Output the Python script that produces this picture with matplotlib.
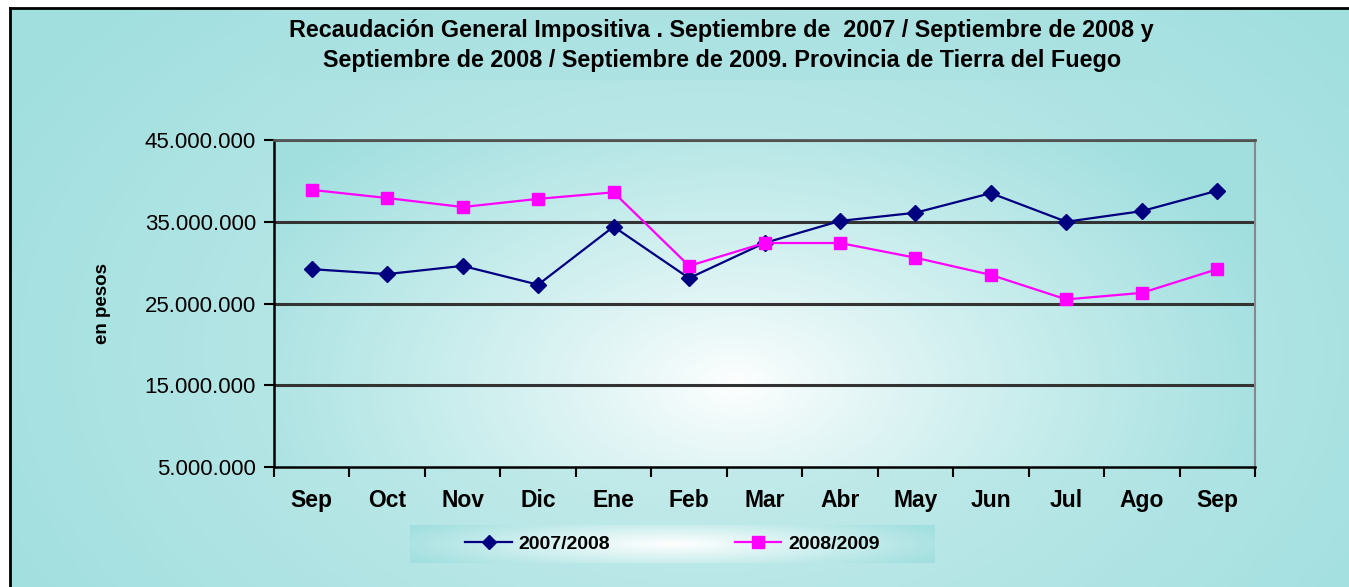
import numpy as np
import matplotlib
matplotlib.use('Agg')
import matplotlib.pyplot as plt
from matplotlib.lines import Line2D
from matplotlib.patches import Rectangle
from matplotlib.ticker import FuncFormatter

plt.rcParams['font.family'] = ['Liberation Sans', 'DejaVu Sans']

meses = ["Sep", "Oct", "Nov", "Dic", "Ene", "Feb", "Mar", "Abr", "May", "Jun", "Jul", "Ago", "Sep"]
serie_0708 = [29.2e6, 28.6e6, 29.6e6, 27.3e6, 34.4e6, 28.1e6, 32.4e6, 35.1e6, 36.1e6, 38.5e6, 35.0e6, 36.3e6, 38.8e6]
serie_0809 = [38.9e6, 37.9e6, 36.8e6, 37.8e6, 38.6e6, 29.6e6, 32.4e6, 32.4e6, 30.6e6, 28.5e6, 25.5e6, 26.3e6, 29.2e6]
y_ticks = [5e6, 15e6, 25e6, 35e6, 45e6]

teal = np.array([161, 223, 223]) / 255.0
white = np.array([1.0, 1.0, 1.0])


def radial(w, h, cx, cy, rx, ry, inner, outer, power=1.0):
    xx, yy = np.meshgrid(np.linspace(0, 1, w), np.linspace(0, 1, h))
    d = np.sqrt(((xx - cx) / rx) ** 2 + ((yy - cy) / ry) ** 2)
    t = np.clip(d, 0, 1) ** power
    return inner[None, None, :] * (1 - t[..., None]) + outer[None, None, :] * t[..., None]


fig = plt.figure(figsize=(13.49, 5.87), dpi=100)
fig.patch.set_facecolor('white')

# fondo general del gráfico
bg = fig.add_axes([10 / 1349, 0, 1 - 10 / 1349, 1 - 8 / 587])
bg_img = radial(300, 150, 0.52, 0.4, 0.6, 0.9, np.array([0.80, 0.93, 0.93]), teal)
bg.imshow(bg_img, extent=[0, 1, 0, 1], aspect='auto', origin='lower', zorder=0)
bg.set_xlim(0, 1)
bg.set_ylim(0, 1)
bg.set_xticks([])
bg.set_yticks([])
for s in ['right', 'bottom']:
    bg.spines[s].set_visible(False)
for s in ['left', 'top']:
    bg.spines[s].set_linewidth(2)
    bg.spines[s].set_color('black')

# caja del título
fig.patches.append(Rectangle((280 / 1349, 1 - 80 / 587), 880 / 1349, 68 / 587,
                             transform=fig.transFigure, facecolor='#a9e1e1', alpha=0.6,
                             edgecolor='none', zorder=1))
fig.text(0.535, 1 - 30 / 587, "Recaudación General Impositiva . Septiembre de  2007 / Septiembre de 2008 y",
         ha='center', va='center', fontsize=16.8, fontweight='bold', zorder=3)
fig.text(0.535, 1 - 60 / 587, "Septiembre de 2008 / Septiembre de 2009. Provincia de Tierra del Fuego",
         ha='center', va='center', fontsize=16.8, fontweight='bold', zorder=3)

ax = fig.add_axes([274 / 1349, 1 - 467 / 587, 981 / 1349, 327 / 587])
x = np.arange(len(meses))
ax.set_xlim(-0.5, len(meses) - 0.5)
ax.set_ylim(5e6, 45e6)

plot_img = radial(300, 150, 0.47, 0.25, 0.58, 1.05, white, teal, power=0.85)
ax.imshow(plot_img, extent=[-0.5, len(meses) - 0.5, 5e6, 45e6], aspect='auto',
          origin='lower', zorder=0)

for v in y_ticks[1:]:
    ax.axhline(v, color='#333333', linewidth=2.2, zorder=1)

ax.plot(x, serie_0708, color='#000080', linewidth=1.6, marker='D', markersize=8,
        zorder=3, label='2007/2008')
ax.plot(x, serie_0809, color='#ff00ff', linewidth=1.6, marker='s', markersize=9,
        zorder=3, label='2008/2009')

ax.set_yticks(y_ticks)
ax.yaxis.set_major_formatter(FuncFormatter(lambda v, p: f"{int(v):,}".replace(",", ".")))
ax.tick_params(axis='y', labelsize=16, length=7, width=1.5, direction='out', pad=6)
ax.set_xticks(x)
ax.set_xticklabels(meses, fontsize=16.5, fontweight='bold')
ax.set_xticks(np.arange(-0.5, len(meses), 1.0), minor=True)
ax.tick_params(axis='x', which='major', length=0, pad=16)
ax.tick_params(axis='x', which='minor', length=7, width=1.5, direction='out')
ax.set_ylabel("en pesos", fontsize=13.5, fontweight='bold', labelpad=24)

ax.spines['left'].set_linewidth(1.8)
ax.spines['bottom'].set_linewidth(1.8)
ax.spines['top'].set_color('#555555')
ax.spines['top'].set_linewidth(2)
ax.spines['right'].set_color('#888888')
ax.spines['right'].set_linewidth(1.5)

# leyenda
lax = fig.add_axes([410 / 1349, 1 - 563 / 587, 525 / 1349, 38 / 587])
leg_img = radial(200, 30, 0.5, 0.5, 0.55, 0.9, white, teal * 0.97 + 0.03)
lax.imshow(leg_img, extent=[0, 1, 0, 1], aspect='auto', origin='lower')
lax.set_xlim(0, 1)
lax.set_ylim(0, 1)
lax.axis('off')
handles = [Line2D([], [], color='#000080', linewidth=1.6, marker='D', markersize=7),
           Line2D([], [], color='#ff00ff', linewidth=1.6, marker='s', markersize=8)]
lax.legend(handles, ['2007/2008', '2008/2009'], loc='center', ncol=2, frameon=False,
           prop={'size': 14, 'weight': 'bold'}, columnspacing=6.4, handlelength=2.4,
           handletextpad=0.35)

fig.savefig("out.png", dpi=100)
